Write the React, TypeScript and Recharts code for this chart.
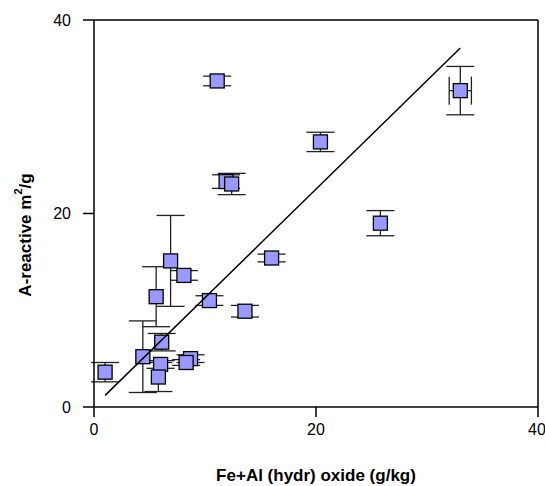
import React from 'react'
import { ScatterChart, Scatter, XAxis, YAxis, ErrorBar, ReferenceLine } from 'recharts'

// 点データ
const oxide = [1.0, 4.4, 6.1, 6.0, 5.8, 5.6, 6.9, 8.1, 8.7, 8.3, 10.4, 13.6, 11.1, 11.9, 12.4, 16.0, 20.4, 25.8, 33.0]
const reactive = [3.6, 5.2, 6.7, 4.4, 3.1, 11.4, 15.1, 13.6, 5.0, 4.6, 11.0, 9.9, 33.7, 23.3, 23.05, 15.4, 27.4, 19.0, 32.7]
const oxideErr = [0, 0, 0, 0, 0, 0, 0, 0, 0, 0, 0, 0, 0, 0, 0, 0, 0, 0, 1.0]
const reactiveErr = [1.0, 3.7, 0.9, 0.4, 1.5, 3.1, 4.7, 0.5, 0.4, 0.3, 0.5, 0.6, 0.5, 0.7, 1.1, 0.4, 1.0, 1.3, 2.5]

// 回帰直線の端点
const fitX = [1.0, 33.0]
const fitY = [1.2, 37.1]

const ticks = [0, 20, 40]

const points = oxide.map((x, i) => ({ x, y: reactive[i], ex: oxideErr[i], ey: reactiveErr[i] }))
const fitLine = fitX.map((x, i) => ({ x, y: fitY[i] }))

if (typeof document !== 'undefined') document.body.style.margin = '0'

const font = '"Liberation Sans", Arial, sans-serif'

const Square = (props: any) => {
  const { cx, cy } = props
  if (cx == null || cy == null) return <g />
  return <rect x={cx - 7} y={cy - 7} width={14} height={14} fill="#9999ff" stroke="#000" strokeWidth={1.3} />
}

export default function App() {
  return (
    <div style={{ width: 545, height: 486, background: '#fff' }}>
      <ScatterChart width={545} height={486} margin={{ top: 20, right: 7, bottom: 0, left: 0 }}>
        <XAxis
          type="number"
          dataKey="x"
          domain={[0, 40]}
          ticks={ticks}
          height={79}
          tickSize={10}
          tickMargin={7}
          stroke="#000"
          strokeWidth={1.5}
          tick={{ fontSize: 16, fill: '#000', fontFamily: font }}
          label={{
            value: 'Fe+Al (hydr) oxide (g/kg)',
            position: 'insideBottom',
            offset: 5,
            style: { fontSize: 17, fontWeight: 'bold', fill: '#000', fontFamily: font },
          }}
        />
        <YAxis
          type="number"
          dataKey="y"
          domain={[0, 40]}
          ticks={ticks}
          width={94}
          tickSize={11}
          tickMargin={12}
          stroke="#000"
          strokeWidth={1.5}
          tick={{ fontSize: 16, fill: '#000', fontFamily: font }}
          label={{
            content: () => (
              <text
                x={25}
                y={235}
                transform="rotate(-90 25 235)"
                textAnchor="middle"
                dominantBaseline="central"
                style={{ fontSize: 17, fontWeight: 'bold', fill: '#000', fontFamily: font }}
              >
                A-reactive m<tspan dy={-7} fontSize={11}>2</tspan><tspan dy={7}>/g</tspan>
              </text>
            ),
          }}
        />
        <ReferenceLine y={40} stroke="#000" strokeWidth={1.5} />
        <ReferenceLine x={40} stroke="#000" strokeWidth={1.5} />
        <Scatter data={points} shape={Square} isAnimationActive={false}>
          <ErrorBar dataKey="ey" direction="y" width={14} stroke="#222" strokeWidth={1.3} />
          <ErrorBar dataKey="ex" direction="x" width={14} stroke="#222" strokeWidth={1.3} />
        </Scatter>
        <Scatter
          data={fitLine}
          line={{ stroke: '#000', strokeWidth: 1.5 }}
          shape={() => <g />}
          isAnimationActive={false}
        />
      </ScatterChart>
    </div>
  )
}
